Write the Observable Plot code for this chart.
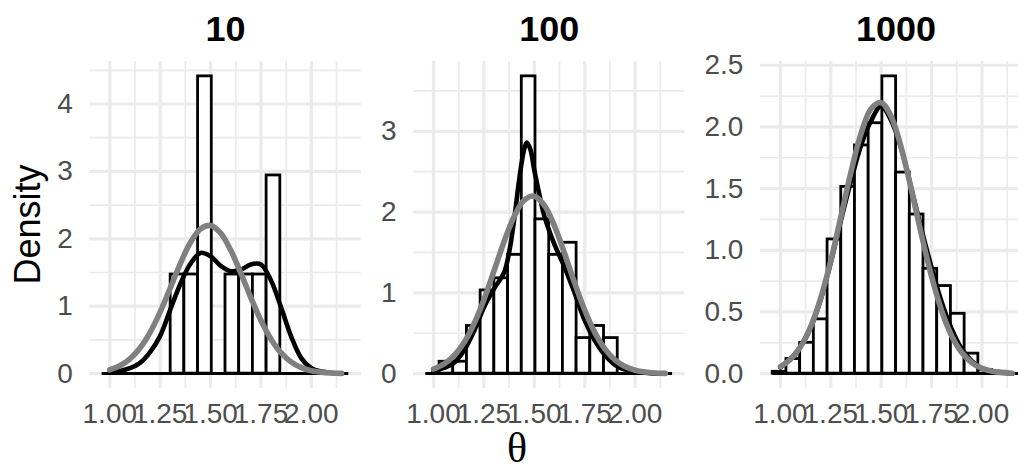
<!DOCTYPE html>
<html>
<head>
<meta charset="utf-8">
<script src="https://cdn.jsdelivr.net/npm/d3@7"></script>
<script src="https://cdn.jsdelivr.net/npm/@observablehq/plot@0.6"></script>
<style>
  body { margin: 0; background: white; }
  #wrap { position: relative; width: 1018px; height: 470px; overflow: hidden; background: white; }
  #wrap svg.plot, #wrap > svg { position: absolute; top: 0; max-width: none; }
</style>
</head>
<body>
<div id="wrap"></div>
<script>
// ---------- data ----------
const panelTitles = ["10", "100", "1000"];
// shared histogram bin edges (θ)
const binEdges = [0.962, 1.030, 1.098, 1.166, 1.234, 1.302, 1.370, 1.438, 1.506, 1.574,
                  1.642, 1.710, 1.778, 1.846, 1.914, 1.982, 2.050, 2.118, 2.186];
// histogram densities per panel (one per bin)
const dens10   = [0, 0, 0, 0, 0, 1.47, 1.47, 4.41, 0, 1.47, 1.47, 1.47, 2.94, 0, 0, 0, 0, 0];
const dens100  = [0, 0.147, 0.147, 0.59, 1.03, 1.18, 1.47, 3.68, 1.91, 1.47, 1.62, 0.44, 0.59, 0.44, 0, 0, 0, 0];
const dens1000 = [0.015, 0.118, 0.25, 0.44, 1.088, 1.514, 1.85, 2.03, 2.41, 1.63, 1.29, 0.85, 0.71, 0.485, 0.162, 0.03, 0.015, 0];

// curve grid
const curveX = [1.00, 1.05, 1.10, 1.15, 1.20, 1.25, 1.30, 1.35, 1.40, 1.45, 1.50, 1.55,
                1.60, 1.65, 1.70, 1.75, 1.80, 1.85, 1.90, 1.95, 2.00, 2.05, 2.10, 2.15];
// grey reference curve (same in all panels)
const greyY = [0.057, 0.116, 0.218, 0.379, 0.612, 0.916, 1.270, 1.633, 1.945, 2.147, 2.197, 2.083,
               1.830, 1.490, 1.125, 0.787, 0.510, 0.306, 0.171, 0.088, 0.042, 0.019, 0.008, 0.003];
// black kernel density curves
const kde10Y = [0.02, 0.04, 0.08, 0.16, 0.32, 0.56, 0.95, 1.33, 1.63, 1.79, 1.74, 1.60,
                1.52, 1.54, 1.62, 1.62, 1.38, 0.98, 0.55, 0.23, 0.08, 0.03, 0.01, 0.00];
const kde100X = [1.00, 1.05, 1.10, 1.15, 1.20, 1.25, 1.30, 1.35, 1.375, 1.40, 1.425, 1.45, 1.463, 1.48,
                 1.50, 1.525, 1.55, 1.60, 1.65, 1.70, 1.75, 1.80, 1.85, 1.90, 1.95, 2.00, 2.05, 2.10, 2.15];
const kde100Y = [0.03, 0.07, 0.13, 0.28, 0.52, 0.82, 1.05, 1.25, 1.50, 1.90, 2.40, 2.78, 2.86, 2.78,
                 2.52, 2.22, 1.95, 1.60, 1.32, 1.00, 0.66, 0.41, 0.23, 0.11, 0.05, 0.03, 0.01, 0.00, 0.00];
const kde1000Y = [0.05, 0.12, 0.22, 0.37, 0.60, 0.90, 1.24, 1.56, 1.85, 2.05, 2.17, 2.05,
                  1.82, 1.50, 1.17, 0.86, 0.58, 0.36, 0.20, 0.10, 0.04, 0.02, 0.01, 0.00];

// axis ticks
const xMajor = [1.00, 1.25, 1.50, 1.75, 2.00];
const xMinor = [1.125, 1.375, 1.625, 1.875, 2.125];
const yMajor10 = [0, 1, 2, 3, 4],       yMinor10 = [0.5, 1.5, 2.5, 3.5, 4.5];
const yMajor100 = [0, 1, 2, 3],         yMinor100 = [0.5, 1.5, 2.5, 3.5];
const yMajor1000 = [0, 0.5, 1, 1.5, 2, 2.5], yMinor1000 = [0.25, 0.75, 1.25, 1.75, 2.25];

// ---------- layout ----------
const PW = 271.4, TOP = 61, BOTTOM = 388, H = 470;
const FONT = "'Liberation Sans', Arial, Helvetica, sans-serif";
const GRID = "#ebebeb";

const xmin = d3.min(binEdges), xmax = d3.max(binEdges), xr = xmax - xmin;

function panel(cfg) {
  const bins = cfg.dens.map((d, i) => ({x1: binEdges[i], x2: binEdges[i + 1], y: d}));
  const kde = cfg.kdeX.map((x, i) => ({x, y: cfg.kdeY[i]}));
  const grey = curveX.map((x, i) => ({x, y: greyY[i]}));
  const M = d3.max(cfg.dens);
  const p = Plot.plot({
    width: cfg.ml + PW,
    height: H,
    marginLeft: cfg.ml,
    marginRight: 0,
    marginTop: TOP,
    marginBottom: H - BOTTOM,
    x: {domain: [xmin - 0.05 * xr, xmax + 0.05 * xr]},
    y: {domain: [-0.05 * M, 1.05 * M]},
    style: {background: "transparent", overflow: "visible", fontFamily: FONT},
    marks: [
      Plot.ruleX(xMinor, {stroke: GRID, strokeWidth: 1.7}),
      Plot.ruleY(cfg.yMinor.filter(v => v <= 1.05 * M), {stroke: GRID, strokeWidth: 1.7}),
      Plot.ruleX(xMajor, {stroke: GRID, strokeWidth: 3.2}),
      Plot.ruleY(cfg.yMajor, {stroke: GRID, strokeWidth: 3.2}),
      Plot.axisX({ticks: xMajor, tickSize: 0, tickPadding: 15, tickFormat: d3.format(".2f"),
                  fontSize: 28, fill: "#4d4d4d", label: null}),
      Plot.axisY({ticks: cfg.yMajor, tickSize: 0, tickPadding: 17, tickFormat: cfg.fmt,
                  fontSize: 28, fill: "#4d4d4d", label: null}),
      Plot.rect(bins, {x1: "x1", x2: "x2", y1: 0, y2: "y", fill: "white", stroke: "black", strokeWidth: 2.8}),
      Plot.ruleY([0], {x1: xmin, x2: xmax, stroke: "black", strokeWidth: 3}),
      Plot.line(kde, {x: "x", y: "y", stroke: "black", strokeWidth: 4.6, curve: "catmull-rom"}),
      Plot.line(grey, {x: "x", y: "y", stroke: "#808080", strokeWidth: 5.6, curve: "catmull-rom"}),
      Plot.text([cfg.title], {frameAnchor: "top", dy: -20, lineAnchor: "bottom", text: d => d,
                  fontSize: 36, fontWeight: "bold", fill: "black", fontFamily: FONT})
    ]
  });
  p.style.left = cfg.left + "px";
  return p;
}

const wrap = document.getElementById("wrap");
wrap.appendChild(panel({title: panelTitles[0], dens: dens10, kdeX: curveX, kdeY: kde10Y,
  yMajor: yMajor10, yMinor: yMinor10, fmt: d3.format("d"), left: 0, ml: 89.3}));
wrap.appendChild(panel({title: panelTitles[1], dens: dens100, kdeX: kde100X, kdeY: kde100Y,
  yMajor: yMajor100, yMinor: yMinor100, fmt: d3.format("d"), left: 360.7, ml: 52}));
wrap.appendChild(panel({title: panelTitles[2], dens: dens1000, kdeX: curveX, kdeY: kde1000Y,
  yMajor: yMajor1000, yMinor: yMinor1000, fmt: d3.format(".1f"), left: 684.1, ml: 75.9}));

// axis titles
const ov = d3.select(wrap).append("svg")
  .attr("width", 1018).attr("height", 470).style("left", "0px").style("pointer-events", "none");
ov.append("text").text("Density")
  .attr("transform", "translate(40,224.5) rotate(-90)")
  .attr("text-anchor", "middle").attr("font-family", FONT).attr("font-size", 36).attr("fill", "black");
ov.append("text").text("θ")
  .attr("x", 517).attr("y", 462)
  .attr("text-anchor", "middle").attr("font-family", "'Liberation Serif', 'DejaVu Serif', serif")
  .attr("font-size", 42).attr("fill", "black");
</script>
</body>
</html>
